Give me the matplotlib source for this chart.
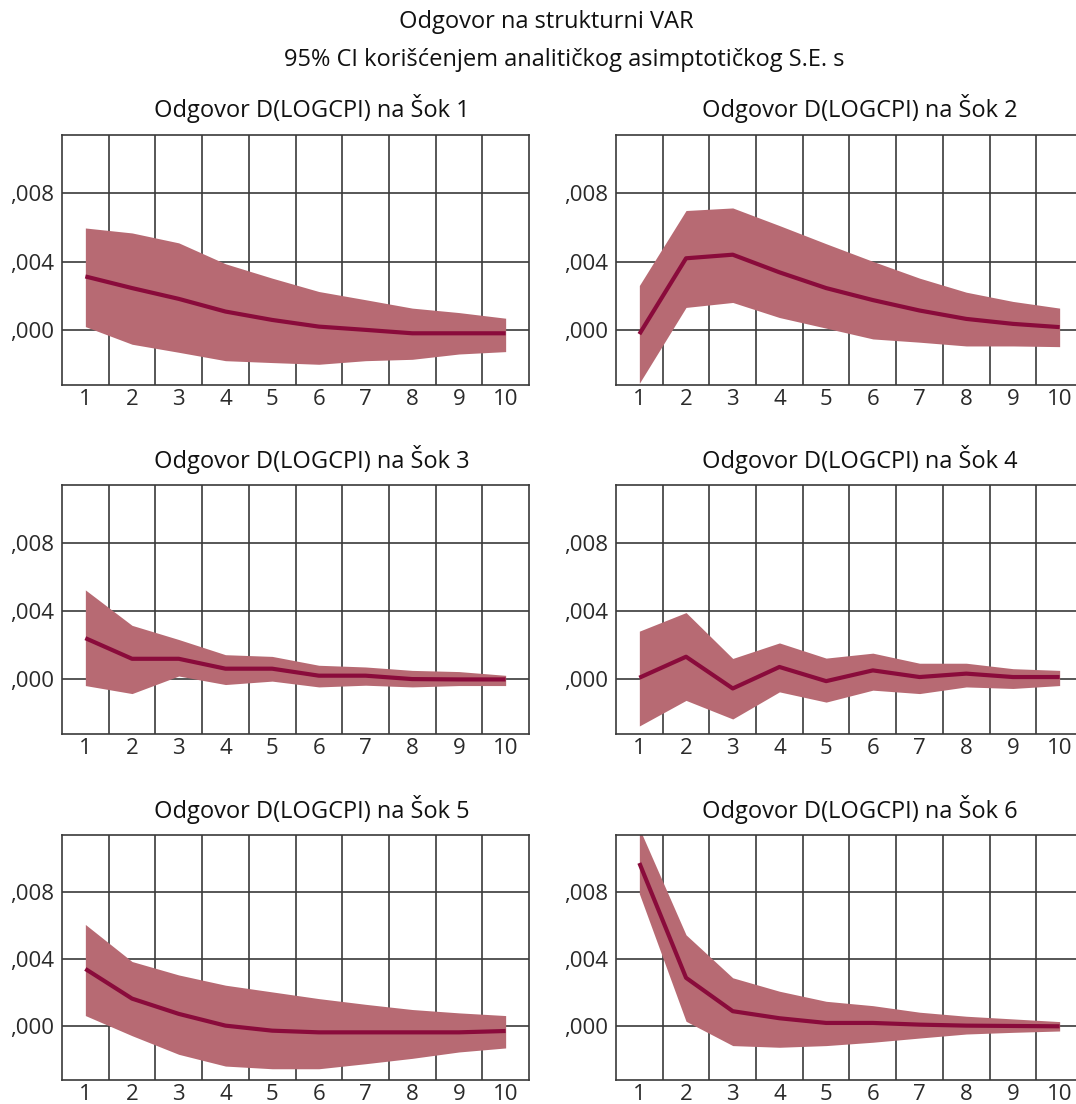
# Impulse responses of D(LOGCPI) to six structural shocks, with 95% bands
import matplotlib.pyplot as plt
from matplotlib.ticker import FuncFormatter

plt.rcParams['font.family'] = ['Open Sans', 'DejaVu Sans']

steps = [1, 2, 3, 4, 5, 6, 7, 8, 9, 10]

resp_1 = [0.00314, 0.00246, 0.00183, 0.00109, 0.00060, 0.00021, 0.00002, -0.00018, -0.00018, -0.00018]
upper_1 = [0.00597, 0.00568, 0.00510, 0.00388, 0.00304, 0.00226, 0.00178, 0.00129, 0.00103, 0.00070]
lower_1 = [0.00021, -0.00082, -0.00129, -0.00178, -0.00189, -0.00199, -0.00178, -0.00170, -0.00139, -0.00125]

resp_2 = [-0.00023, 0.00420, 0.00441, 0.00338, 0.00246, 0.00176, 0.00115, 0.00066, 0.00037, 0.00018]
upper_2 = [0.00261, 0.00699, 0.00714, 0.00611, 0.00505, 0.00402, 0.00304, 0.00222, 0.00168, 0.00129]
lower_2 = [-0.00310, 0.00133, 0.00162, 0.00074, 0.00012, -0.00051, -0.00070, -0.00092, -0.00092, -0.00096]

resp_3 = [0.00242, 0.00121, 0.00121, 0.00063, 0.00063, 0.00022, 0.00022, 0.00002, 0.00000, 0.00000]
upper_3 = [0.00525, 0.00317, 0.00234, 0.00145, 0.00135, 0.00083, 0.00073, 0.00053, 0.00046, 0.00024]
lower_3 = [-0.00036, -0.00083, 0.00020, -0.00030, -0.00010, -0.00044, -0.00034, -0.00044, -0.00036, -0.00036]

resp_4 = [0.00010, 0.00133, -0.00053, 0.00073, -0.00010, 0.00053, 0.00014, 0.00034, 0.00014, 0.00014]
upper_4 = [0.00283, 0.00392, 0.00123, 0.00214, 0.00125, 0.00154, 0.00095, 0.00095, 0.00063, 0.00053]
lower_4 = [-0.00273, -0.00123, -0.00232, -0.00073, -0.00133, -0.00063, -0.00083, -0.00044, -0.00053, -0.00036]

resp_5 = [0.00342, 0.00165, 0.00074, 0.00004, -0.00026, -0.00036, -0.00036, -0.00036, -0.00036, -0.00028]
upper_5 = [0.00607, 0.00386, 0.00306, 0.00245, 0.00205, 0.00165, 0.00131, 0.00100, 0.00080, 0.00064]
lower_5 = [0.00064, -0.00056, -0.00167, -0.00237, -0.00253, -0.00253, -0.00223, -0.00191, -0.00153, -0.00129]

resp_6 = [0.00973, 0.00289, 0.00090, 0.00048, 0.00020, 0.00020, 0.00010, 0.00004, 0.00002, 0.00000]
upper_6 = [0.01180, 0.00545, 0.00289, 0.00209, 0.00149, 0.00123, 0.00084, 0.00060, 0.00044, 0.00028]
lower_6 = [0.00790, 0.00030, -0.00115, -0.00125, -0.00115, -0.00095, -0.00070, -0.00046, -0.00036, -0.00028]

responses = [resp_1, resp_2, resp_3, resp_4, resp_5, resp_6]
uppers = [upper_1, upper_2, upper_3, upper_4, upper_5, upper_6]
lowers = [lower_1, lower_2, lower_3, lower_4, lower_5, lower_6]

y_ticks = [0.000, 0.004, 0.008]

W, H = 1076, 1104
fig = plt.figure(figsize=(W / 100, H / 100), dpi=100)

# pixel boxes of the panels: left, right, top, bottom
cols = [(62, 529), (616, 1083)]
rows = [(135, 385), (485, 734), (835, 1080)]
title_x = [312, 860]

band_color = '#b76a73'
line_color = '#8a0b3b'
grid_color = '#3a3a3a'
fs_title = 17
fs_tick = 16


def fmt(v, pos):
    s = f'{v:.3f}'.replace('.', ',')
    if s.startswith('0'):
        s = s[1:]
    elif s.startswith('-0'):
        s = '-' + s[2:]
    return s


for i in range(6):
    r, c = divmod(i, 2)
    l, rt = cols[c]
    t, b = rows[r]
    ax = fig.add_axes([l / W, 1 - b / H, (rt - l) / W, (b - t) / H])
    ax.fill_between(steps, lowers[i], uppers[i], color=band_color, lw=0, zorder=2)
    ax.plot(steps, responses[i], color=line_color, lw=3, zorder=3, solid_capstyle='butt')
    ax.set_xlim(0.5, 10.5)
    ax.set_ylim(-0.0032, 0.0114)
    ax.set_xticks(steps)
    ax.set_yticks(y_ticks)
    ax.yaxis.set_major_formatter(FuncFormatter(fmt))
    # vertical lines sit between the steps
    for xv in [s + 0.5 for s in steps[:-1]]:
        ax.axvline(xv, color=grid_color, lw=1.2, zorder=1)
    for yv in y_ticks:
        ax.axhline(yv, color=grid_color, lw=1.2, zorder=1)
    for sp in ax.spines.values():
        sp.set_color(grid_color)
        sp.set_linewidth(1.2)
    ax.tick_params(length=0, labelsize=fs_tick, labelcolor='#2a2a2a')
    ax.tick_params(axis='y', pad=6)
    ax.tick_params(axis='x', pad=3)
    fig.text(title_x[c] / W, 1 - (t - 26) / H, f'Odgovor D(LOGCPI) na Šok {i + 1}',
             ha='center', va='center', fontsize=fs_title, color='#111111')

fig.text(546 / W, 1 - 22 / H, 'Odgovor na strukturni VAR', ha='center', va='center',
         fontsize=fs_title, color='#111111')
fig.text(564 / W, 1 - 60 / H, '95% CI korišćenjem analitičkog asimptotičkog S.E. s',
         ha='center', va='center', fontsize=fs_title, color='#111111')

fig.savefig('out.png', dpi=100)
